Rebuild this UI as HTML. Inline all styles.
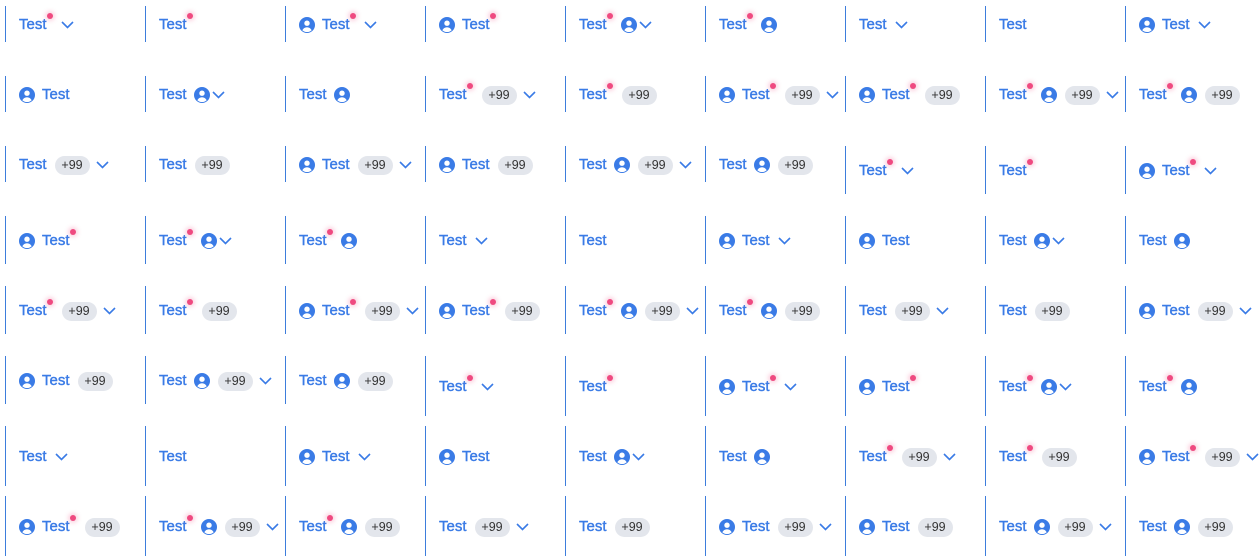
<!DOCTYPE html>
<html><head><meta charset="utf-8">
<style>
html,body{margin:0;padding:0;background:#fff;}
body{width:1260px;height:560px;position:relative;overflow:hidden;font-family:"Liberation Sans",sans-serif;}
.cell{position:absolute;width:139px;border-left:1px solid #3d7ddc;box-sizing:border-box;display:flex;align-items:center;padding-left:13px;padding-top:2px;}
.txt{color:#3a7be6;font-size:15px;line-height:18px;-webkit-text-stroke:0.4px #3a7be6;}
.dw{position:relative;width:7px;height:18px;}
.dot{position:absolute;left:0;top:-3px;width:6px;height:6px;border-radius:50%;background:#ef4a80;box-shadow:0 0 4px 2px rgba(239,74,128,0.25);}
.ico{width:16px;height:16px;display:block;}
.il{margin-right:7px;}
.ir{margin-left:7px;}
.badge{margin-left:8px;height:19px;width:35px;border-radius:10px;background:#e3e6ec;color:#333;font-size:12.5px;line-height:19px;text-align:center;}
.chev{width:13px;height:8px;display:block;}
</style></head>
<body>
<script>
const rows = [
 ["DC","D","LDC","LD","DRC","DR","C","","LC"],
 ["L","RC","R","DBC","DB","LDBC","LDB","DRBC","DRB"],
 ["BC","B","LBC","LB","RBC","RB","DC","D","LDC"],
 ["LD","DRC","DR","C","","LC","L","RC","R"],
 ["DBC","DB","LDBC","LDB","DRBC","DRB","BC","B","LBC"],
 ["LB","RBC","RB","DC","D","LDC","LD","DRC","DR"],
 ["C","","LC","L","RC","R","DBC","DB","LDBC"],
 ["LDB","DRBC","DRB","BC","B","LBC","LB","RBC","RB"]
];
const sizes = [36,48,60];
const userSvg = '<svg class="ico" viewBox="0 0 16 16"><circle cx="8" cy="8" r="8" fill="#3a7be6"/><circle cx="8" cy="6.2" r="2.7" fill="#fff"/><path d="M3.3 13.2c1-2 2.7-3 4.7-3s3.7 1 4.7 3A7 7 0 0 1 3.3 13.2z" fill="#fff"/></svg>';
const chevSvg = '<svg class="chev" viewBox="0 0 13 8"><polyline points="1,1 6.5,6.5 12,1" fill="none" stroke="#3a7be6" stroke-width="1.6"/></svg>';
rows.forEach((row, r) => {
  row.forEach((code, c) => {
    const idx = r * 9 + c;
    const h = sizes[Math.floor(idx / 24)];
    const el = document.createElement('div');
    el.className = 'cell';
    
    
    el.style.left = (5 + 140 * c) + 'px';
    el.style.top = (6 + 70 * r) + 'px';
    el.style.height = h + 'px';
    let html = '';
    if (code.includes('L')) html += userSvg.replace('class="ico"', 'class="ico il"');
    html += '<span class="txt">Test</span>';
    if (code.includes('D')) html += '<span class="dw"><span class="dot"></span></span>';
    if (code.includes('R')) html += userSvg.replace('class="ico"', 'class="ico ir"');
    if (code.includes('B')) html += '<span class="badge">+99</span>';
    if (code.includes('C')) {
      let ml = 8;
      if (code.includes('B')) ml = 6; else if (code.includes('R')) ml = 2; else if (code.includes('D')) ml = 7;
      html += '<span style="margin-left:' + ml + 'px">' + chevSvg + '</span>';
    }
    el.innerHTML = html;
    document.body.appendChild(el);
  });
});
</script>
</body></html>
